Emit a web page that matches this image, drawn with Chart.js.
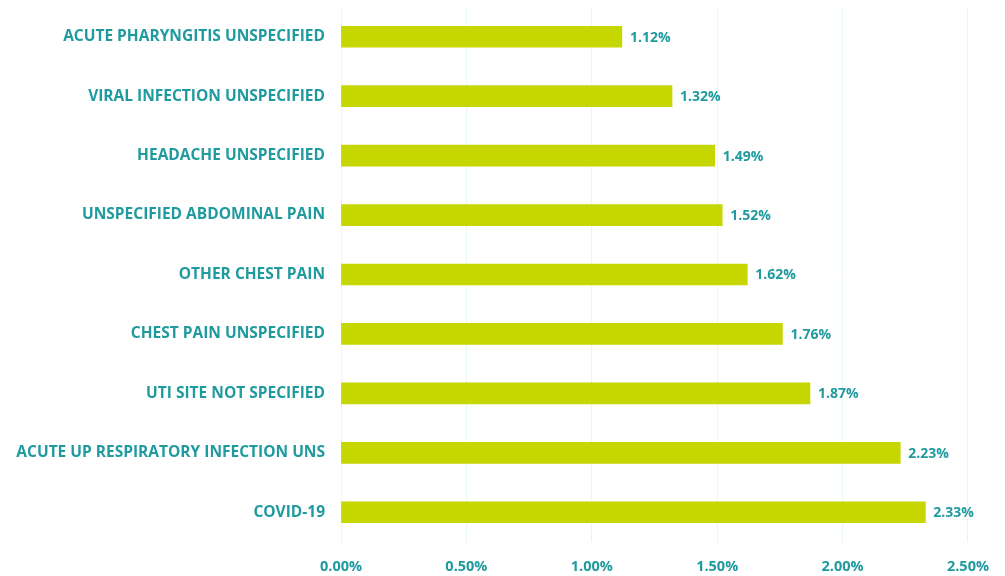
<!DOCTYPE html>
<html>
<head>
  <title>Top Diagnoses</title>
  <script src="https://cdn.jsdelivr.net/npm/chart.js"></script>
  <style>
    html, body { margin: 0; padding: 0; background: #fff; }
    #wrap { width: 1005px; height: 576px; }
  </style>
</head>
<body>
  <div id="wrap"><canvas id="chart"></canvas></div>

  <script>
    const diagnoses = [
      "ACUTE PHARYNGITIS UNSPECIFIED",
      "VIRAL INFECTION UNSPECIFIED",
      "HEADACHE UNSPECIFIED",
      "UNSPECIFIED ABDOMINAL PAIN",
      "OTHER CHEST PAIN",
      "CHEST PAIN UNSPECIFIED",
      "UTI SITE NOT SPECIFIED",
      "ACUTE UP RESPIRATORY INFECTION UNS",
      "COVID-19"
    ];
    const shares = [1.12, 1.32, 1.49, 1.52, 1.62, 1.76, 1.87, 2.23, 2.33];

    const teal = "#1f9a9e";
    const barColor = "#c5d600";
    const fontFamily = "'Open Sans', Lato, sans-serif";

    // value labels to the right of each bar
    const valueLabels = {
      id: "valueLabels",
      afterDatasetsDraw(chart) {
        const ctx = chart.ctx;
        const meta = chart.getDatasetMeta(0);
        ctx.save();
        ctx.font = "bold 14px " + fontFamily;
        ctx.fillStyle = teal;
        ctx.textAlign = "left";
        ctx.textBaseline = "middle";
        meta.data.forEach((bar, i) => {
          ctx.fillText(shares[i].toFixed(2) + "%", bar.x + 8, bar.y + 1);
        });
        ctx.restore();
      }
    };

    const ctx = document.getElementById("chart").getContext("2d");
    new Chart(ctx, {
      type: "bar",
      data: {
        labels: diagnoses,
        datasets: [{
          data: shares,
          backgroundColor: barColor,
          borderWidth: 0,
          barThickness: 21
        }]
      },
      plugins: [valueLabels],
      options: {
        indexAxis: "y",
        responsive: true,
        maintainAspectRatio: false,
        animation: false,
        layout: { padding: { top: 7, right: 37, bottom: 0, left: 0 } },
        plugins: {
          legend: { display: false },
          tooltip: { enabled: false }
        },
        scales: {
          x: {
            min: 0,
            max: 2.5,
            border: { display: false },
            grid: { color: "#e8f6f6", drawTicks: false },
            ticks: {
              stepSize: 0.5,
              padding: 16,
              color: teal,
              font: { family: fontFamily, size: 14.5, weight: "bold" },
              callback: v => v.toFixed(2) + "%"
            },
            afterFit: scale => { scale.height = 34; }
          },
          y: {
            border: { display: false },
            grid: { display: false, drawTicks: false },
            ticks: {
              padding: 16,
              color: teal,
              font: { family: fontFamily, size: 15.5, weight: "bold" }
            },
            afterFit: scale => {
              scale.width = 341;
              scale.paddingTop = 0;
              scale.paddingBottom = 0;
            }
          }
        }
      }
    });
  </script>
</body>
</html>
